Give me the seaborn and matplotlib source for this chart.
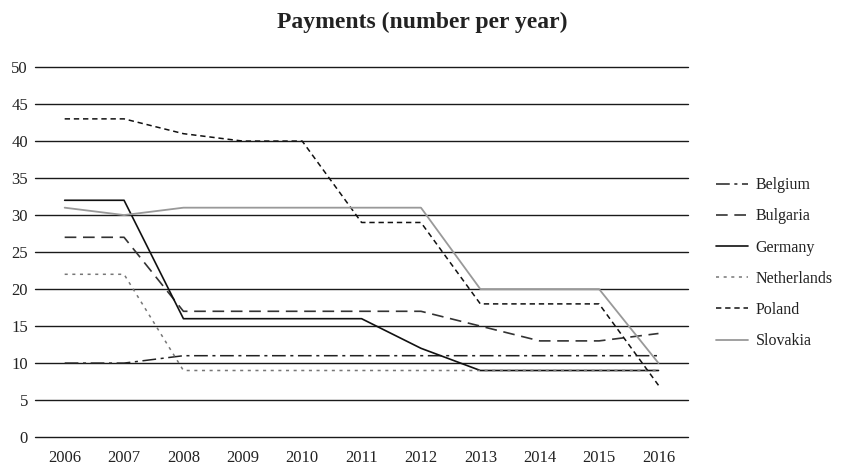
import matplotlib
matplotlib.use("Agg")
import matplotlib.pyplot as plt
import seaborn as sns
import pandas as pd

years = [2006, 2007, 2008, 2009, 2010, 2011, 2012, 2013, 2014, 2015, 2016]
belgium = [10, 10, 11, 11, 11, 11, 11, 11, 11, 11, 11]
bulgaria = [27, 27, 17, 17, 17, 17, 17, 15, 13, 13, 14]
germany = [32, 32, 16, 16, 16, 16, 12, 9, 9, 9, 9]
netherlands = [22, 22, 9, 9, 9, 9, 9, 9, 9, 9, 9]
poland = [43, 43, 41, 40, 40, 29, 29, 18, 18, 18, 7]
slovakia = [31, 30, 31, 31, 31, 31, 31, 20, 20, 20, 10]

series = {
    "Belgium": belgium,
    "Bulgaria": bulgaria,
    "Germany": germany,
    "Netherlands": netherlands,
    "Poland": poland,
    "Slovakia": slovakia,
}

df = pd.DataFrame(
    [(c, y, v) for c, vals in series.items() for y, v in zip(years, vals)],
    columns=["country", "year", "value"],
)
df["pos"] = df["year"].map({y: i for i, y in enumerate(years)})

sns.set_theme(style="white")
plt.rcParams["font.family"] = ["Liberation Serif", "DejaVu Serif"]

styles = {
    "Belgium": dict(color="#222222", dashes=(9, 3, 2, 3), lw=1.1),
    "Bulgaria": dict(color="#333333", dashes=(7, 4), lw=1.2),
    "Germany": dict(color="#111111", dashes="", lw=1.2),
    "Netherlands": dict(color="#777777", dashes=(2, 3), lw=1.1),
    "Poland": dict(color="#111111", dashes=(3.5, 2.5), lw=1.1),
    "Slovakia": dict(color="#999999", dashes="", lw=1.3),
}

fig = plt.figure(figsize=(8.45, 4.69), dpi=100)
ax = fig.add_axes([0.0414, 0.068, 0.773, 0.789])

for c in series:
    st = styles[c]
    sub = df[df["country"] == c]
    sns.lineplot(data=sub, x="pos", y="value", ax=ax, color=st["color"],
                 lw=st["lw"], label=c)
    ln = ax.get_lines()[-1]
    if st["dashes"]:
        ln.set_dashes(st["dashes"])

for yv in range(0, 51, 5):
    ax.axhline(yv, color="#1a1a1a", lw=1.0, zorder=0, clip_on=False)

ax.set_ylim(0, 50)
ax.set_xlim(-0.5, len(years) - 0.5)
ax.set_yticks(range(0, 51, 5))
ax.set_xticks(range(len(years)))
ax.set_xticklabels([str(y) for y in years])
ax.tick_params(axis="both", labelsize=12, colors="#222222", length=0)
ax.tick_params(axis="x", pad=9)
ax.tick_params(axis="y", pad=5)
ax.set_xlabel("")
ax.set_ylabel("")
for s in ax.spines.values():
    s.set_visible(False)
ax.grid(False)

fig.suptitle("Payments (number per year)", x=0.5, y=0.975, fontsize=17,
             fontweight="bold", color="#222222")

leg = ax.legend(loc="center left", bbox_to_anchor=(1.02, 0.47), frameon=False,
                fontsize=11.5, handlelength=2.0, handletextpad=0.5,
                labelspacing=0.95)
for t in leg.get_texts():
    t.set_color("#222222")

fig.savefig("out.png", dpi=100)
